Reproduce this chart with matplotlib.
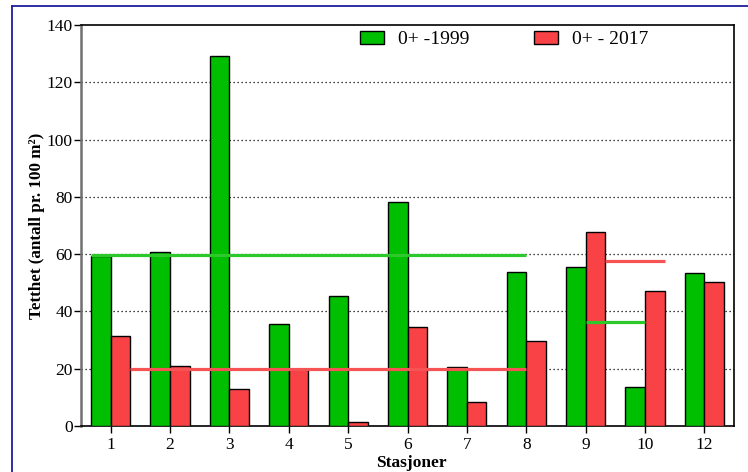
import matplotlib
matplotlib.use("Agg")
import matplotlib.pyplot as plt
from matplotlib.lines import Line2D
import numpy as np

plt.rcParams['font.family'] = ['Liberation Serif', 'DejaVu Serif']

stations = ['1', '2', '3', '4', '5', '6', '7', '8', '9', '10', '12']
dens_1999 = [59.5, 60.9, 129.2, 35.7, 45.5, 78.2, 20.5, 53.8, 55.6, 13.7, 53.3]
dens_2017 = [31.5, 21.0, 13.0, 19.8, 1.5, 34.5, 8.5, 29.6, 67.6, 47.1, 50.4]

# Mean lines per river section: (value, first station index, last station index)
mean_1999 = [(59.8, 0, 7), (36.3, 8, 9)]
mean_2017 = [(19.8, 0, 7), (57.6, 8, 9)]

legend_labels = ['0+ -1999', '0+ - 2017']
y_ticks = [0, 20, 40, 60, 80, 100, 120, 140]

green = '#00BE00'
red = '#F84245'
green_line = '#2CC82C'
red_line = '#F65355'

W, H = 748, 472
fig = plt.figure(figsize=(W / 100, H / 100), dpi=100)
ax = fig.add_axes([81 / W, 1 - 426 / H, (734 - 81) / W, (426 - 25) / H])

x = np.arange(len(stations))
bw = 0.33
ax.bar(x - bw / 2, dens_1999, bw, color=green, edgecolor='black', linewidth=1.0,
       label=legend_labels[0], zorder=3)
ax.bar(x + bw / 2, dens_2017, bw, color=red, edgecolor='black', linewidth=1.0,
       label=legend_labels[1], zorder=3)

# section means
v, a, b = mean_1999[0]
ax.plot([x[a] - bw, x[b]], [v, v], color=green_line, lw=2.3, zorder=4, solid_capstyle='butt')
v, a, b = mean_1999[1]
ax.plot([x[a], x[b]], [v, v], color=green_line, lw=2.3, zorder=4, solid_capstyle='butt')
v, a, b = mean_2017[0]
ax.plot([x[a] + bw, x[b]], [v, v], color=red_line, lw=2.3, zorder=4, solid_capstyle='butt')
v, a, b = mean_2017[1]
ax.plot([x[a] + bw, x[b] + bw], [v, v], color=red_line, lw=2.3, zorder=4, solid_capstyle='butt')

ax.set_xlim(-0.5, len(stations) - 0.5)
ax.set_ylim(0, 140)
ax.set_xticks(x)
ax.set_xticklabels(stations)
ax.set_yticks(y_ticks)

for t in y_ticks[1:-1]:
    ax.axhline(t, color='black', lw=0.9, ls=(0, (1, 2.2)), zorder=1)

ax.tick_params(axis='both', direction='out', length=5, width=1, labelsize=12.5, colors='black', pad=1)
ax.tick_params(axis='x', pad=3)
ax.spines['left'].set_color('#707070')
ax.spines['left'].set_linewidth(1.8)
for s in ['top', 'right', 'bottom']:
    ax.spines[s].set_color('black')
    ax.spines[s].set_linewidth(1.2)

ax.set_ylabel('Tetthet (antall pr. 100 m²)', fontsize=12.3, fontweight='bold', labelpad=1)
fig.text(411 / W, 1 - 463 / H, 'Stasjoner', ha='center', va='center', fontsize=12.5, fontweight='bold')

leg = ax.legend(loc='center left', bbox_to_anchor=(360 / W, 1 - 39.5 / H), bbox_transform=fig.transFigure,
                ncol=2, frameon=False, fontsize=14, handlelength=1.25, handleheight=0.62,
                columnspacing=3.3, handletextpad=0.72, borderaxespad=0, borderpad=0)

# figure frame
fig.add_artist(Line2D([11.5 / W, 11.5 / W], [0, 1 - 6 / H], transform=fig.transFigure, color='#1E1E9C', lw=1.3))
fig.add_artist(Line2D([11.5 / W, 1], [1 - 6 / H, 1 - 6 / H], transform=fig.transFigure, color='#1E1E9C', lw=1.3))

fig.savefig('out.png', dpi=100)
